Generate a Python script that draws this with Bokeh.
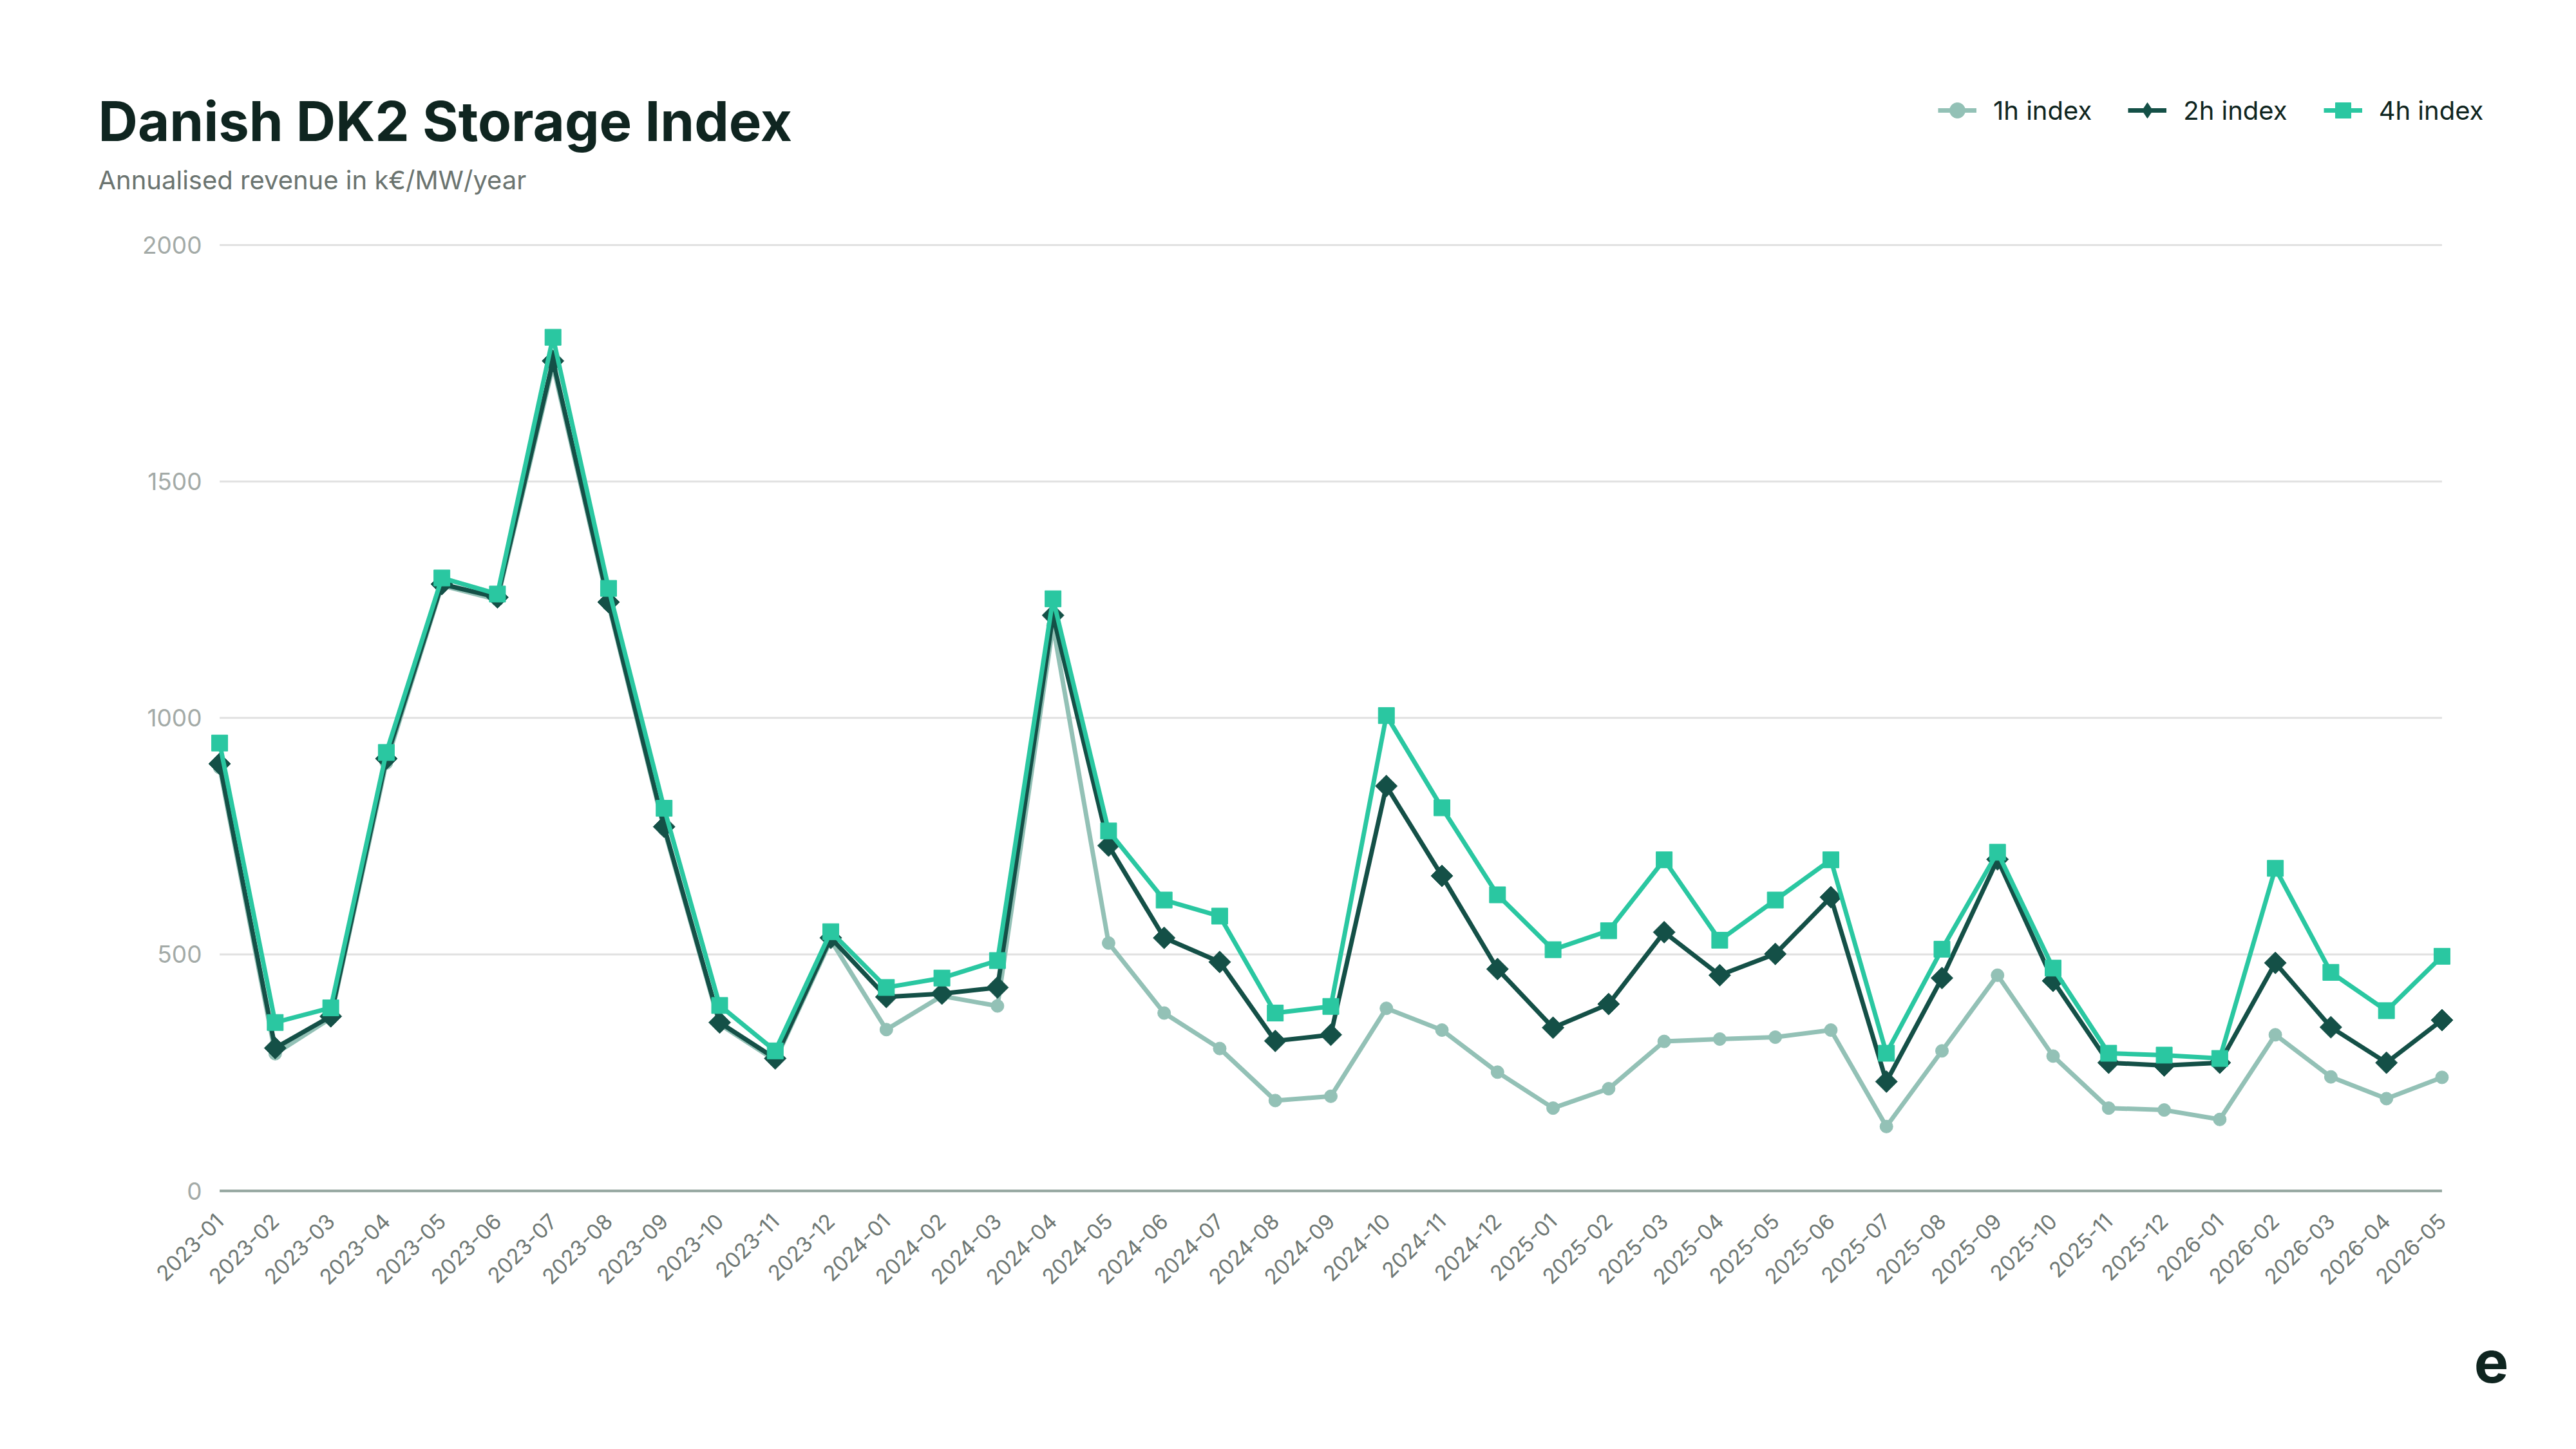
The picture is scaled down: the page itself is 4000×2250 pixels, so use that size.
import numpy as np
from bokeh.plotting import figure
from bokeh.layouts import column
from bokeh.models import Range1d, FixedTicker, Label, Legend, LegendItem
from bokeh.embed import file_html
from bokeh.resources import INLINE

months = ["2023-01", "2023-02", "2023-03", "2023-04", "2023-05", "2023-06",
          "2023-07", "2023-08", "2023-09", "2023-10", "2023-11", "2023-12",
          "2024-01", "2024-02", "2024-03", "2024-04", "2024-05", "2024-06",
          "2024-07", "2024-08", "2024-09", "2024-10", "2024-11", "2024-12",
          "2025-01", "2025-02", "2025-03", "2025-04", "2025-05", "2025-06",
          "2025-07", "2025-08", "2025-09", "2025-10", "2025-11", "2025-12",
          "2026-01", "2026-02", "2026-03", "2026-04", "2026-05"]

index_1h = [895, 290, 365, 905, 1280, 1250, 1745, 1240, 765, 352, 276, 530,
            341, 412, 391, 1195, 524, 376, 301, 191, 200, 386, 340, 251,
            175, 216, 316, 321, 325, 340, 136, 296, 456, 285, 175, 171,
            151, 330, 241, 195, 240]
index_2h = [903, 302, 369, 914, 1283, 1255, 1755, 1245, 770, 356, 280, 535,
            410, 417, 430, 1217, 730, 535, 484, 317, 330, 856, 666, 469,
            345, 395, 547, 456, 501, 621, 231, 450, 701, 444, 271, 265,
            271, 482, 346, 271, 361]
index_4h = [947, 356, 387, 927, 1296, 1262, 1805, 1274, 809, 392, 296, 548,
            430, 450, 487, 1252, 761, 615, 581, 376, 390, 1005, 810, 626,
            510, 550, 700, 530, 615, 700, 291, 511, 716, 471, 291, 287,
            280, 682, 462, 381, 496]
y_ticks = [0, 500, 1000, 1500, 2000]
series_names = ["1h index", "2h index", "4h index"]
title_text = "Danish DK2 Storage Index"
subtitle_text = "Annualised revenue in k€/MW/year"

C1, C2, C4 = "#93c1b6", "#145047", "#2ac7a1"
DARK = "#0f2520"
FONT = "Inter"
W = 3984
HEAD_H, MAIN_H, FOOT_H = 340, 1720, 174

x = list(range(len(months)))
x_last = len(months) - 1


def style_series(fig, xs, s1, s2, s4, legend_shapes=False):
    r1l = fig.line(xs, s1, line_color=C1, line_width=7)
    r1m = fig.scatter(xs, s1, marker="circle", size=20, fill_color=C1, line_color=C1)
    r2l = fig.line(xs, s2, line_color=C2, line_width=7)
    if legend_shapes:
        r2m = fig.scatter(xs, s2, marker="diamond", size=34, fill_color=C2, line_color=C2)
    else:
        r2m = fig.scatter(xs, s2, marker="square", angle=np.pi / 4, size=24,
                          fill_color=C2, line_color=C2)
    r4l = fig.line(xs, s4, line_color=C4, line_width=7)
    r4m = fig.scatter(xs, s4, marker="square", size=25, fill_color=C4, line_color=C4)
    return [(r1l, r1m), (r2l, r2m), (r4l, r4m)]


def blank(h):
    f = figure(width=W, height=h, output_backend="svg", toolbar_location=None,
               x_range=Range1d(0, W), y_range=Range1d(-h, 0),
               min_border=0, min_border_left=0, min_border_right=0,
               min_border_top=0, min_border_bottom=0, frame_align=False)
    f.axis.visible = False
    f.grid.visible = False
    f.outline_line_color = None
    f.background_fill_color = "white"
    f.border_fill_color = "white"
    return f

# ---------------- header: title, subtitle, legend ----------------
head = blank(HEAD_H)
# same series drawn in the header, outside its visible range: they only feed the legend
hr = style_series(head, x, index_1h, index_2h, index_4h, legend_shapes=True)
head.add_layout(Label(x=152, y=-188, text=title_text, text_font=FONT,
                      text_font_size="85px", text_font_style="bold",
                      text_color=DARK, text_baseline="alphabetic", text_align="left"))
head.add_layout(Label(x=152, y=-279, text=subtitle_text, text_font=FONT,
                      text_font_size="40px", text_color="#6b7470",
                      text_baseline="alphabetic", text_align="left"))
legend = Legend(items=[LegendItem(label=n, renderers=list(r)) for n, r in zip(series_names, hr)],
                orientation="horizontal", location=(3009, HEAD_H - 171 - 30),
                border_line_color=None, background_fill_alpha=0,
                glyph_width=60, glyph_height=60, label_height=60,
                label_standoff=26, spacing=56, padding=0, margin=0,
                label_text_font=FONT, label_text_font_size="40px",
                label_text_color=DARK, label_text_baseline="middle")
head.add_layout(legend)

# ---------------- main chart ----------------
p = figure(width=W, height=MAIN_H, output_backend="svg", toolbar_location=None,
           x_range=Range1d(-0.25, x_last + 0.25), y_range=Range1d(-10, 2015),
           min_border_left=319, min_border_right=171, min_border_top=29,
           min_border_bottom=204, frame_align=False)
p.outline_line_color = None
p.background_fill_color = "white"
p.border_fill_color = "white"
p.grid.visible = False

# horizontal grid lines spanning the data extent, and the zero axis line
p.segment(x0=[0] * (len(y_ticks) - 1), y0=y_ticks[1:], x1=[x_last] * (len(y_ticks) - 1),
          y1=y_ticks[1:], line_color="#e1e1e1", line_width=3)
p.segment(x0=[0], y0=[y_ticks[0]], x1=[x_last], y1=[y_ticks[0]],
          line_color="#93a59e", line_width=4)

p.yaxis.ticker = FixedTicker(ticks=y_ticks)
p.yaxis.axis_line_color = None
p.yaxis.major_tick_line_color = None
p.yaxis.minor_tick_line_color = None
p.yaxis.major_label_text_font = FONT
p.yaxis.major_label_text_font_size = "37px"
p.yaxis.major_label_text_color = "#a3aaa7"
p.yaxis.major_label_standoff = 0

p.xaxis.ticker = FixedTicker(ticks=x)
p.xaxis.major_label_overrides = {i: m for i, m in enumerate(months)}
p.xaxis.axis_line_color = None
p.xaxis.major_tick_line_color = None
p.xaxis.minor_tick_line_color = None
p.xaxis.major_label_orientation = np.pi / 4
p.xaxis.major_label_text_font = FONT
p.xaxis.major_label_text_font_size = "33px"
p.xaxis.major_label_text_color = "#6f7874"
p.xaxis.major_label_standoff = 28

style_series(p, x, index_1h, index_2h, index_4h)

# ---------------- footer: logo mark ----------------
foot = blank(FOOT_H)
foot.add_layout(Label(x=3868, y=-54, text="e", text_font=FONT, text_font_size="90px",
                      text_font_style="bold", text_color=DARK,
                      text_baseline="middle", text_align="center"))

layout = column(head, p, foot, spacing=0)
open("out.html", "w").write(file_html(layout, INLINE))
